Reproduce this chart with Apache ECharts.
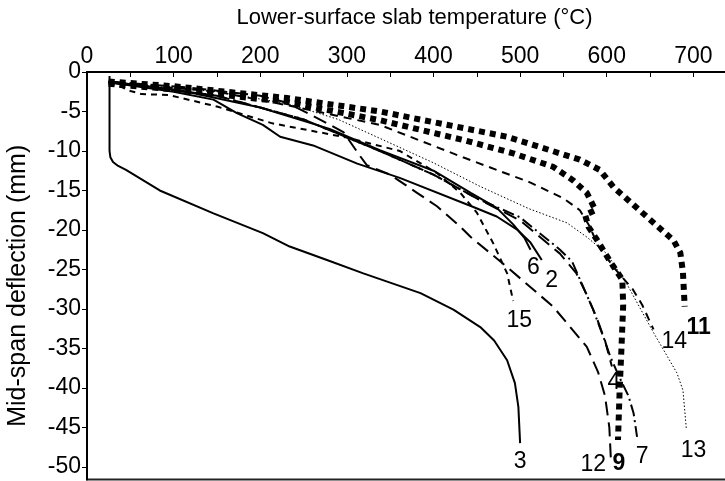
<!DOCTYPE html>
<html>
<head>
<meta charset="utf-8">
<script src="https://cdn.jsdelivr.net/npm/echarts@6/dist/echarts.min.js"></script>
<style>
  html, body { margin: 0; padding: 0; background: #fff; }
  #chart { width: 725px; height: 481px; }
</style>
</head>
<body>
<div id="chart"></div>
<script>
// temperature (°C), deflection (mm) pairs
var line3  = [[26,-0.5],[26,-5],[26,-10],[27,-10.8],[30,-11.4],[36,-11.9],[45,-12.4],[84,-15],[146,-17.9],[203,-20.4],[234,-22.1],[277,-23.8],[319,-25.5],[385,-28],[423,-30.1],[454,-32.3],[470,-34],[485,-36.5],[494,-39.4],[498,-42.4],[500,-47]];
var line6  = [[25,-1.2],[107,-2.3],[200,-4.5],[280,-7.2],[338,-9.9],[400,-12.5],[443,-15.3],[473,-17.2],[492,-19.3],[505,-21],[512,-22.5]];
var line2  = [[25,-1.3],[100,-2.5],[146,-3.5],[173,-5.2],[203,-6.7],[223,-8.2],[261,-9.3],[312,-11.6],[361,-13.4],[446,-17.1],[473,-18.3],[497,-20],[512,-21.6],[525,-23.8]];
var line15 = [[25,-1.5],[40,-1.9],[50,-2.4],[63,-2.8],[94,-2.9],[151,-4.4],[214,-6.5],[300,-8.3],[361,-10],[404,-12.8],[431,-15.3],[450,-17.8],[469,-21.7],[485,-25.5],[492,-29]];
var line4  = [[25,-1.3],[150,-3],[250,-6],[338,-10],[400,-13],[450,-16],[500,-18.8],[546,-23],[565,-25.5],[576,-28],[588,-31],[598,-34],[606,-37.3]];
var line12 = [[25,-1.2],[120,-2],[200,-3],[231,-3.9],[260,-5.5],[296,-7.6],[313,-10.3],[323,-11.8],[350,-13],[381,-15.3],[404,-17],[431,-19.6],[443,-20.9],[485,-24.7],[538,-29.7],[577,-34.8],[590,-38],[598,-41],[603,-45],[605,-49.5]];
var line9  = [[25,-1.5],[100,-2.2],[231,-3.8],[338,-6.1],[434,-8.6],[492,-10.3],[538,-12],[561,-13.7],[577,-15.3],[587,-17.5],[575,-18.1],[579,-19.6],[589,-21.3],[604,-24],[618,-26.3],[619,-29.5],[617,-35],[615,-40],[613,-46.6]];
var line7  = [[25,-1.3],[150,-3],[250,-6],[338,-10],[400,-13],[450,-16],[500,-18.4],[546,-22.5],[560,-24],[572,-27],[584,-30],[596,-33.5],[604,-36],[614,-38.5],[625,-41],[631,-43.2],[635,-46.2]];
var line13 = [[25,-1.3],[150,-2.5],[231,-4],[290,-6],[338,-8.4],[400,-11.5],[454,-14.5],[510,-17.3],[554,-19.1],[577,-20.9],[600,-23],[624,-27],[654,-33],[681,-38.1],[688,-40.3],[692,-45.3]];
var line14 = [[25,-1.3],[150,-2.5],[231,-4.2],[338,-6.7],[434,-10.8],[512,-14],[550,-16],[569,-17.5],[580,-19.5],[590,-22],[610,-25],[630,-27.5],[641,-29.5],[654,-32.6]];
var line11 = [[25,-1.2],[100,-1.8],[231,-3.3],[338,-5],[485,-8.2],[569,-11.1],[592,-12.4],[608,-14.6],[647,-18.4],[677,-21.3],[685,-22.9],[688,-25.4],[690,-29.7]];

var xTicks = [0,50,100,150,200,250,300,350,400,450,500,550,600,650,700];
var xLabels = [0,100,200,300,400,500,600,700];
var yTicks = [0,-5,-10,-15,-20,-25,-30,-35,-40,-45,-50];

var FONT = '"Liberation Sans", Arial, sans-serif';

var curves = [
  { name: '3',  data: line3,  width: 2, type: 'solid',        pos: 'bottom', off: [0, 2] },
  { name: '6',  data: line6,  width: 2, type: 'solid',        pos: 'bottom', off: [3, 1] },
  { name: '2',  data: line2,  width: 2, type: 'solid',        pos: 'bottom', off: [10, 4] },
  { name: '15', data: line15, width: 2, type: [6, 5],         pos: 'bottom', off: [6, 3] },
  { name: '4',  data: line4,  width: 2, type: [14, 7],        pos: 'bottom', off: [2, 0] },
  { name: '12', data: line12, width: 2, type: [14, 7],        pos: 'left',   off: [0, 2] },
  { name: '9',  data: line9,  width: 6, type: [6, 5],         pos: 'bottom', off: [1, 7], bold: true },
  { name: '7',  data: line7,  width: 2, type: [12, 4, 2, 4],  pos: 'bottom', off: [5, 3] },
  { name: '13', data: line13, width: 1, type: [1.5, 2],       pos: 'bottom', off: [7, 4] },
  { name: '14', data: line14, width: 2, type: [8, 6],         pos: 'right',  off: [3, 12] },
  { name: '11', data: line11, width: 6, type: [6, 5],         pos: 'bottom', off: [14, 5], bold: true }
];

var series = curves.map(function (c) {
  var last = c.data.length - 1;
  var pts = c.data.map(function (p, i) {
    if (i < last) return p;
    return {
      value: p,
      label: {
        show: true, formatter: c.name, position: c.pos, offset: c.off,
        fontSize: 23, color: '#000', fontFamily: FONT,
        fontWeight: c.bold ? 'bold' : 'normal'
      }
    };
  });
  return {
    name: c.name, type: 'line', data: pts,
    showSymbol: true, showAllSymbol: true, symbol: 'circle', symbolSize: 0,
    label: { show: false },
    silent: true, animation: false,
    lineStyle: { color: '#000', width: c.width, type: c.type, cap: 'butt' }
  };
});

var chart = echarts.init(document.getElementById('chart'), null, { renderer: 'canvas' });
chart.setOption({
  backgroundColor: '#fff',
  animation: false,
  grid: {
    left: 87, top: 72, right: -3, bottom: 1.5,
    containLabel: false, outerBoundsMode: 'none',
    show: true, borderColor: '#222', borderWidth: 2, backgroundColor: 'transparent'
  },
  xAxis: {
    type: 'value', position: 'top', min: 0, max: 740,
    name: 'Lower-surface slab temperature (°C)', nameLocation: 'middle', nameGap: 43,
    nameTextStyle: { fontSize: 22, color: '#000', fontFamily: FONT, padding: [0, 0, 0, 14] },
    axisLine: { show: true, onZero: false, lineStyle: { color: '#000', width: 2 } },
    axisTick: { show: true, inside: true, length: 5, customValues: xTicks, lineStyle: { color: '#000' } },
    axisLabel: { customValues: xLabels, fontSize: 23, color: '#000', fontFamily: FONT, margin: 4 },
    splitLine: { show: false }
  },
  yAxis: {
    type: 'value', min: -51.6, max: 0,
    name: 'Mid-span deflection (mm)', nameLocation: 'middle', nameGap: 56, nameRotate: 90,
    nameTextStyle: { fontSize: 25, color: '#000', fontFamily: FONT, padding: [0, 20, 0, 0] },
    axisLine: { show: true, onZero: false, lineStyle: { color: '#000', width: 2 } },
    axisTick: { show: true, inside: false, length: 5, customValues: yTicks, lineStyle: { color: '#000' } },
    axisLabel: { customValues: yTicks, fontSize: 23, color: '#000', fontFamily: FONT, margin: 6 },
    splitLine: { show: false }
  },
  series: series
});
</script>
</body>
</html>
